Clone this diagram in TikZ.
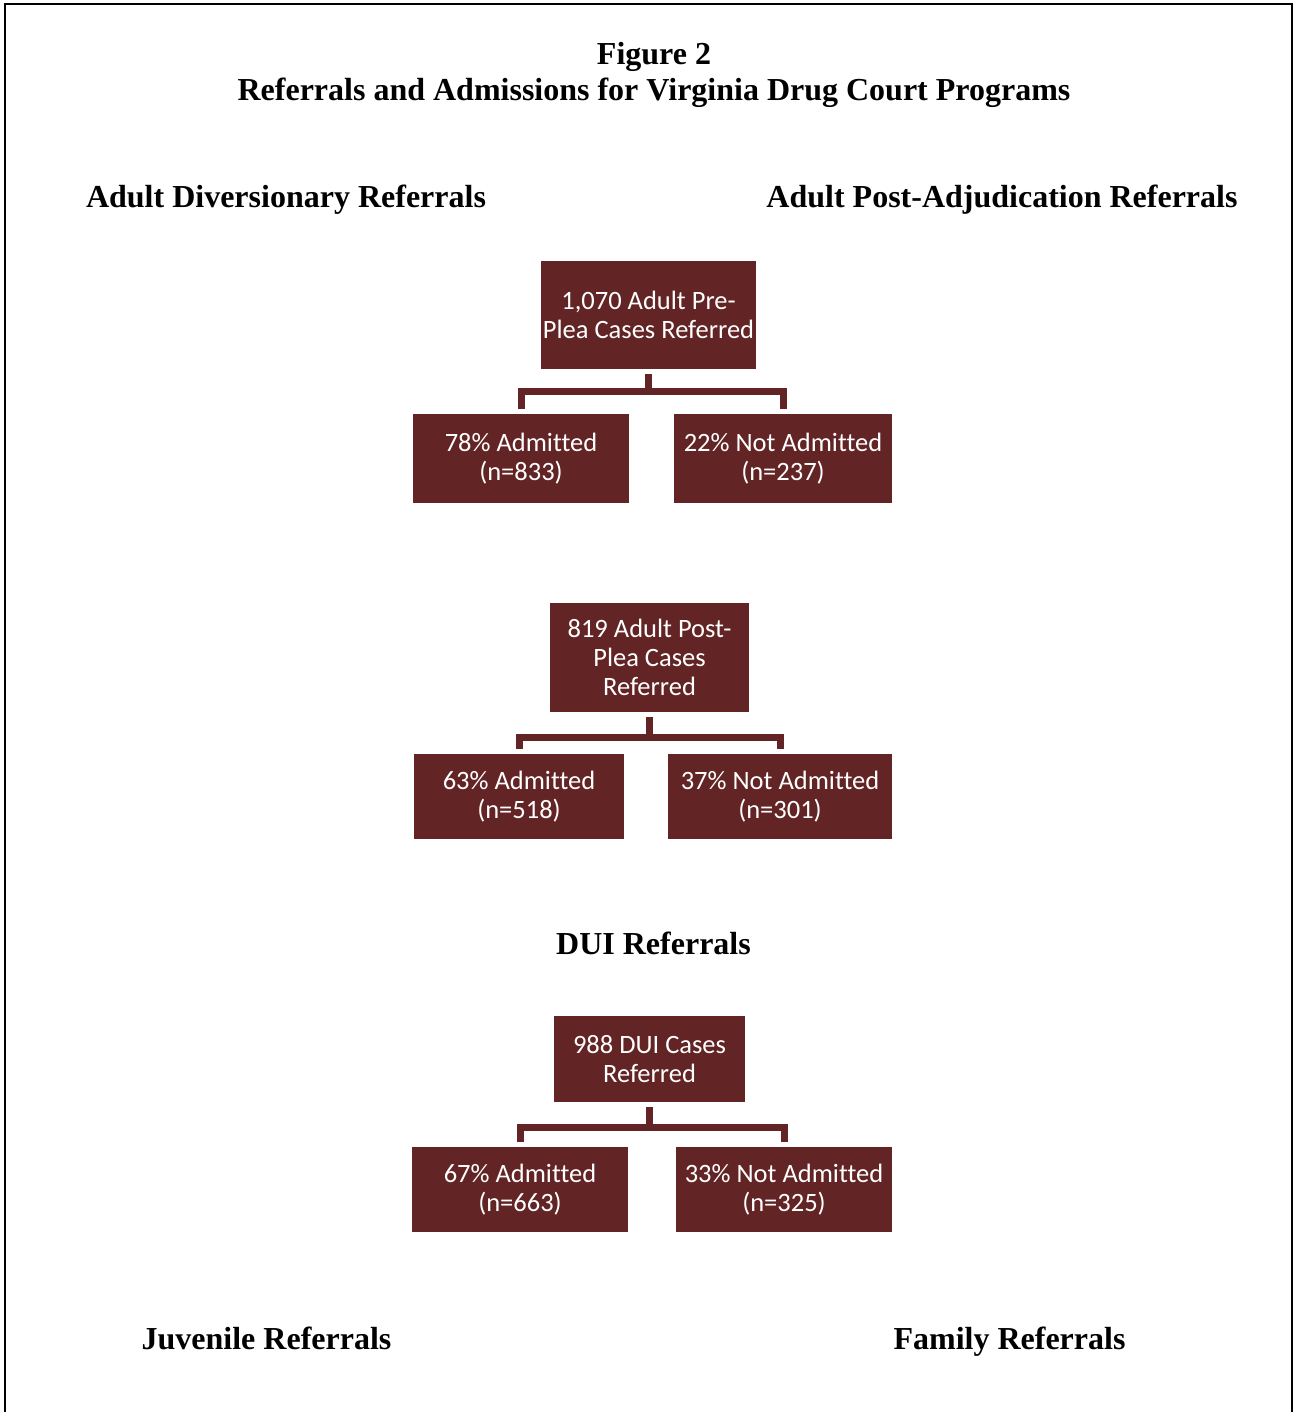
\documentclass[tikz,border=0pt]{standalone}
\usepackage{fontspec}
\setmainfont{Liberation Serif}
\newfontfamily\boxfont[Ligatures=NoCommon]{Carlito}
\definecolor{maroon}{RGB}{98,36,36}
\begin{document}
\begin{tikzpicture}[x=1pt,y=-1pt,
  heading/.style={font=\fontsize{32}{36}\selectfont\bfseries, inner sep=0pt, anchor=base},
  flowbox/.style={fill=maroon, text=white, inner sep=0pt, align=center,
    font=\boxfont\fontsize{26.5}{29}\selectfont},
  conn/.style={draw=maroon, line width=7pt, line cap=butt, line join=miter}]
\useasboundingbox (0,0) rectangle (1294,1412);
\fill[white] (0,0) rectangle (1294,1412);
\draw[line width=2pt] (5,1412) -- (5,4) -- (1292,4) -- (1292,1412);

% headings
\node[heading] (fig) at (654,65) {Figure 2};
\node[heading] (title) at (654,101) {Referrals and Admissions for Virginia Drug Court Programs};
\node[heading] (hdiv) at (286,208) {Adult Diversionary Referrals};
\node[heading] (hpost) at (1002,208) {Adult Post-Adjudication Referrals};
\node[heading] (hdui) at (653.5,954) {DUI Referrals};
\node[heading] (hjuv) at (266.5,1349) {Juvenile Referrals};
\node[heading] (hfam) at (1009.5,1349) {Family Referrals};

% group 1
\node[flowbox, minimum width=215pt, minimum height=108pt] (p1) at (648.5,315) {1,070 Adult Pre-\\Plea Cases Referred};
\node[flowbox, minimum width=216pt, minimum height=89pt] (a1) at (521,458.5) {78\% Admitted\\(n=833)};
\node[flowbox, minimum width=218pt, minimum height=89pt] (b1) at (783,458.5) {22\% Not Admitted\\(n=237)};
\draw[conn] ([yshift=-5pt]p1.south) -- ++(0,19.5);
\draw[conn] ([yshift=5pt]a1.north) -- ++(0,-17) -| ([yshift=5pt]b1.north);

% group 2
\node[flowbox, minimum width=199pt, minimum height=109pt] (p2) at (649.5,657.5) {819 Adult Post-\\Plea Cases\\Referred};
\node[flowbox, minimum width=210pt, minimum height=85pt] (a2) at (519,796.5) {63\% Admitted\\(n=518)};
\node[flowbox, minimum width=224pt, minimum height=85pt] (b2) at (780,796.5) {37\% Not Admitted\\(n=301)};
\draw[conn] ([yshift=-5pt]p2.south) -- ++(0,19.5);
\draw[conn] ([yshift=5pt]a2.north) -- ++(0,-11) -| ([yshift=5pt]b2.north);

% group 3
\node[flowbox, minimum width=191pt, minimum height=86pt] (p3) at (649.5,1059) {988 DUI Cases\\Referred};
\node[flowbox, minimum width=216pt, minimum height=85pt] (a3) at (520,1189.5) {67\% Admitted\\(n=663)};
\node[flowbox, minimum width=216pt, minimum height=85pt] (b3) at (784,1189.5) {33\% Not Admitted\\(n=325)};
\draw[conn] ([yshift=-5pt]p3.south) -- ++(0,19.5);
\draw[conn] ([yshift=5pt]a3.north) -- ++(0,-14) -| ([yshift=5pt]b3.north);
\end{tikzpicture}
\end{document}
